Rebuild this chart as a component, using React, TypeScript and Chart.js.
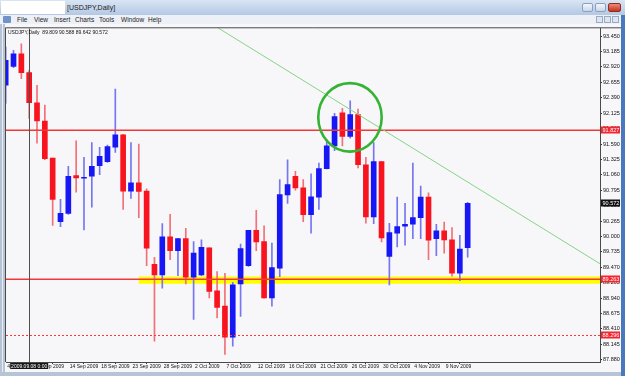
import React, { useEffect, useRef } from 'react';
import { Chart, registerables } from 'chart.js';

Chart.register(...registerables);

// ---------- DATA ----------
const symbolTitle = 'USDJPY,Daily';
const menuItems = ['File', 'View', 'Insert', 'Charts', 'Tools', 'Window', 'Help'];
const menuLefts = [17, 34, 54, 75, 99, 121, 148];

const barDates = [
  '4 Sep', '6 Sep', '7 Sep', '8 Sep', '9 Sep', '10 Sep', '11 Sep', '13 Sep', '14 Sep', '15 Sep',
  '16 Sep', '17 Sep', '18 Sep', '20 Sep', '21 Sep', '22 Sep', '23 Sep', '24 Sep', '25 Sep', '27 Sep',
  '28 Sep', '29 Sep', '30 Sep', '1 Oct', '2 Oct', '4 Oct', '5 Oct', '6 Oct', '7 Oct', '8 Oct',
  '9 Oct', '11 Oct', '12 Oct', '13 Oct', '14 Oct', '15 Oct', '16 Oct', '18 Oct', '19 Oct', '20 Oct',
  '21 Oct', '22 Oct', '23 Oct', '25 Oct', '26 Oct', '27 Oct', '28 Oct', '29 Oct', '30 Oct', '1 Nov',
  '2 Nov', '3 Nov', '4 Nov', '5 Nov', '6 Nov', '8 Nov', '9 Nov', '10 Nov', '11 Nov', '12 Nov',
];
const barYear = '2009';

const openPrices = [
  92.603, 92.928, 93.145, 92.820, 92.301, 91.988, 91.349, 90.255, 90.398, 91.047,
  91.002, 91.036, 91.218, 91.287, 91.537, 91.748, 90.779, 90.922, 90.779, 89.520,
  89.338, 89.993, 89.754, 89.964, 89.298, 89.338, 89.805, 89.064, 88.802, 88.266,
  89.184, 89.497, 90.107, 89.913, 88.944, 89.452, 90.717, 91.036, 90.836, 90.375,
  90.677, 91.167, 91.560, 92.130, 91.720, 92.096, 91.235, 90.335, 91.287, 89.657,
  90.056, 90.175, 90.210, 90.323, 90.677, 89.964, 90.096, 89.942, 89.366, 89.809,
];
const highPrices = [
  93.259, 93.202, 93.316, 92.860, 92.603, 92.261, 91.349, 90.637, 91.207, 91.646,
  91.361, 91.617, 91.532, 91.572, 92.535, 91.760, 91.617, 91.589, 90.819, 89.640,
  90.221, 90.380, 89.964, 90.141, 89.913, 89.942, 89.805, 89.395, 89.366, 89.212,
  89.868, 90.107, 90.449, 90.181, 89.885, 90.979, 91.321, 91.121, 90.979, 91.076,
  91.264, 91.663, 92.119, 92.204, 92.335, 92.193, 91.361, 91.617, 91.292, 90.227,
  90.677, 90.569, 91.264, 90.865, 90.751, 90.210, 90.249, 90.153, 90.021, 90.588,
];
const lowPrices = [
  92.290, 92.905, 92.717, 92.033, 91.606, 91.321, 90.192, 90.170, 90.380, 90.762,
  90.113, 90.506, 91.064, 91.275, 91.446, 90.466, 90.654, 90.323, 89.497, 88.198,
  89.110, 89.600, 89.326, 89.184, 88.574, 89.326, 88.944, 88.597, 87.970, 88.112,
  88.625, 89.486, 89.754, 88.939, 88.802, 89.309, 90.569, 90.796, 90.255, 90.056,
  90.466, 91.161, 91.475, 91.560, 91.691, 91.178, 90.227, 90.221, 89.907, 89.167,
  89.822, 89.851, 89.964, 89.964, 89.600, 89.668, 89.714, 89.315, 89.241, 89.642,
];
const closePrices = [
  93.031, 93.145, 92.820, 92.301, 91.988, 91.338, 90.637, 90.398, 91.036, 91.007,
  91.019, 91.207, 91.378, 91.549, 91.748, 90.779, 90.922, 90.774, 89.799, 89.338,
  89.993, 89.754, 89.964, 89.298, 89.714, 89.811, 89.053, 88.779, 88.266, 89.167,
  89.793, 90.107, 89.908, 88.944, 89.463, 90.722, 90.893, 90.836, 90.375, 90.683,
  91.167, 91.560, 92.062, 91.720, 92.096, 91.235, 90.335, 91.287, 89.976, 90.067,
  90.170, 90.210, 90.323, 90.677, 89.936, 90.096, 89.942, 89.366, 89.782, 90.572,
];

const xTickBars = [0, 4, 8, 12, 16, 20, 24, 28, 32, 36, 40, 44, 48, 52, 56];
const yTickPrices = [
  93.450, 93.185, 92.920, 92.655, 92.390, 92.125, 91.860, 91.590, 91.325, 91.060, 90.795,
  90.530, 90.265, 90.000, 89.735, 89.470, 89.205, 88.940, 88.675, 88.410, 88.145, 87.880,
];

const levelLines = [91.827, 89.263];
const dottedLevel = 88.296;
const supportZone = [89.185, 89.31];
const supportZoneStartBar = 17;
const verticalLineBar = 3;
const verticalLineText = '2009.09.08 0:00';
const trendStart = [27, 93.6];
const trendEnd = [75.9, 89.53];
const circleCenter = [43.97, 92.05];
const circleRadius = [4.05, 0.59];
const lastPrice = 90.572;

const X_MIN = 0.04;
const X_MAX = 75.9;
const Y_MIN = 87.839;
const Y_MAX = 93.583;

// ---------- STYLE ----------
const FONT = '"Liberation Sans Narrow", "Liberation Sans", Arial, sans-serif';
const BULL = '#1717f5';
const BEAR = '#f8141f';
const BULL_WICK = '#7676f2';
const BEAR_WICK = '#f27078';

const overlayPlugin = {
  id: 'mt4Overlay',
  beforeDatasetsDraw(chart: any) {
    const { ctx, chartArea: a, scales } = chart;
    const xs = scales.x;
    const ys = scales.y;
    ctx.save();
    ctx.beginPath();
    ctx.rect(a.left, a.top, a.right - a.left, a.bottom - a.top);
    ctx.clip();
    const zx = xs.getPixelForValue(supportZoneStartBar);
    const zTop = ys.getPixelForValue(supportZone[1]);
    const zBot = ys.getPixelForValue(supportZone[0]);
    ctx.fillStyle = '#ffff00';
    ctx.fillRect(zx, zTop, a.right - zx, zBot - zTop);
    ctx.restore();
  },
  afterDatasetsDraw(chart: any) {
    const { ctx, chartArea: a, scales } = chart;
    const xs = scales.x;
    const ys = scales.y;
    ctx.save();
    ctx.beginPath();
    ctx.rect(a.left, a.top, a.right - a.left, a.bottom - a.top);
    ctx.clip();

    // solid horizontal levels
    ctx.strokeStyle = '#f03838';
    ctx.lineWidth = 1.6;
    levelLines.forEach((p) => {
      const py = ys.getPixelForValue(p);
      ctx.beginPath();
      ctx.moveTo(a.left, py);
      ctx.lineTo(a.right, py);
      ctx.stroke();
    });

    // dotted level
    const dy = Math.round(ys.getPixelForValue(dottedLevel)) + 0.5;
    ctx.setLineDash([2, 2]);
    ctx.strokeStyle = '#ff3a3a';
    ctx.lineWidth = 1;
    ctx.beginPath();
    ctx.moveTo(Math.round(a.left), dy);
    ctx.lineTo(a.right, dy);
    ctx.stroke();
    ctx.setLineDash([]);

    // vertical line
    const vx = Math.round(xs.getPixelForValue(verticalLineBar)) + 0.5;
    ctx.strokeStyle = '#505050';
    ctx.lineWidth = 1;
    ctx.beginPath();
    ctx.moveTo(vx, a.top);
    ctx.lineTo(vx, a.bottom);
    ctx.stroke();

    // trend line
    ctx.strokeStyle = '#84d684';
    ctx.lineWidth = 1;
    ctx.beginPath();
    ctx.moveTo(xs.getPixelForValue(trendStart[0]), ys.getPixelForValue(trendStart[1]));
    ctx.lineTo(xs.getPixelForValue(trendEnd[0]), ys.getPixelForValue(trendEnd[1]));
    ctx.stroke();

    // circle
    const cx = xs.getPixelForValue(circleCenter[0]);
    const cy = ys.getPixelForValue(circleCenter[1]);
    const rx = Math.abs(xs.getPixelForValue(circleCenter[0] + circleRadius[0]) - cx);
    const ry = Math.abs(ys.getPixelForValue(circleCenter[1] + circleRadius[1]) - cy);
    ctx.strokeStyle = '#34b334';
    ctx.lineWidth = 2.6;
    ctx.beginPath();
    ctx.ellipse(cx, cy, rx, ry, 0, 0, Math.PI * 2);
    ctx.stroke();
    ctx.restore();
  },
  afterDraw(chart: any) {
    const { ctx, chartArea: a, scales, width } = chart;
    const xs = scales.x;
    const ys = scales.y;
    ctx.save();
    // frame (left, top)
    ctx.strokeStyle = '#4a4a4a';
    ctx.lineWidth = 1;
    ctx.beginPath();
    ctx.moveTo(a.left - 0.5, a.bottom);
    ctx.lineTo(a.left - 0.5, a.top - 0.5);
    ctx.lineTo(width, a.top - 0.5);
    ctx.stroke();

    // price boxes on the right axis
    const boxes = [
      { p: levelLines[0], bg: '#f2262e', fg: '#ffffff' },
      { p: levelLines[1], bg: '#f2262e', fg: '#ffffff' },
      { p: dottedLevel, bg: '#f2262e', fg: '#ffffff' },
      { p: lastPrice, bg: '#101010', fg: '#ffffff' },
    ];
    ctx.font = `5.5px ${FONT}`;
    ctx.textBaseline = 'middle';
    ctx.textAlign = 'left';
    boxes.forEach((b) => {
      const py = ys.getPixelForValue(b.p);
      ctx.fillStyle = b.bg;
      ctx.fillRect(a.right + 1, Math.round(py) - 3.5, 19, 7);
      ctx.fillStyle = b.fg;
      ctx.fillText(b.p.toFixed(3), a.right + 2.5, py + 0.5);
    });

    // vertical line label
    const vx = xs.getPixelForValue(verticalLineBar);
    ctx.fillStyle = '#161616';
    ctx.fillRect(vx - 19, a.bottom + 1, 38, 6);
    ctx.fillStyle = '#ffffff';
    ctx.font = `5px ${FONT}`;
    ctx.textAlign = 'center';
    ctx.fillText(verticalLineText, vx, a.bottom + 4.2);

    // header text
    const n = closePrices.length - 1;
    const header = `${symbolTitle}  ${openPrices[n].toFixed(3)} ${highPrices[n].toFixed(3)} ${lowPrices[n].toFixed(3)} ${closePrices[n].toFixed(3)}`;
    ctx.fillStyle = '#111111';
    ctx.textAlign = 'left';
    ctx.font = `5px ${FONT}`;
    ctx.fillText(header, a.left + 2, a.top + 4);
    ctx.restore();
  },
};

function CandleChart() {
  const ref = useRef<HTMLCanvasElement | null>(null);
  useEffect(() => {
    if (!ref.current) return;
    const bodies = openPrices.map((o, i) => ({ x: i, y: [o, closePrices[i]] }));
    const wicks = lowPrices.map((l, i) => ({ x: i, y: [l, highPrices[i]] }));
    const up = openPrices.map((o, i) => closePrices[i] >= o);
    const chart = new Chart(ref.current, {
      type: 'bar',
      data: {
        datasets: [
          {
            label: 'body',
            data: bodies as any,
            backgroundColor: up.map((u) => (u ? BULL : BEAR)),
            barThickness: 5,
            minBarLength: 1,
            grouped: false,
            borderWidth: 0,
          } as any,
          {
            label: 'wick',
            data: wicks as any,
            backgroundColor: up.map((u) => (u ? BULL_WICK : BEAR_WICK)),
            barThickness: 1,
            grouped: false,
            borderWidth: 0,
          } as any,
        ],
      },
      options: {
        animation: false,
        responsive: false,
        devicePixelRatio: 1,
        layout: { padding: { left: 1, top: 2, right: 0, bottom: 0 } },
        plugins: { legend: { display: false }, tooltip: { enabled: false } },
        scales: {
          x: {
            type: 'linear',
            min: X_MIN,
            max: X_MAX,
            offset: false,
            grid: { display: true, drawOnChartArea: false, drawTicks: true, tickLength: 2, color: '#333333' },
            border: { display: true, color: '#4a4a4a' },
            ticks: {
              autoSkip: false,
              maxRotation: 0,
              minRotation: 0,
              align: 'start',
              labelOffset: 1.5,
              padding: 0,
              color: '#111111',
              font: { size: 5, family: FONT },
              callback: (v: any) => `${barDates[Math.round(Number(v))]} ${barYear}`,
            },
            afterBuildTicks: (s: any) => {
              s.ticks = xTickBars.map((v) => ({ value: v }));
            },
            afterFit: (s: any) => {
              s.height = 10;
            },
          },
          y: {
            type: 'linear',
            position: 'right',
            min: Y_MIN,
            max: Y_MAX,
            grid: { display: true, drawOnChartArea: false, drawTicks: true, tickLength: 2, color: '#333333' },
            border: { display: true, color: '#4a4a4a' },
            ticks: {
              autoSkip: false,
              padding: 1,
              color: '#111111',
              font: { size: 5.5, family: FONT },
              callback: (v: any) => Number(v).toFixed(3),
            },
            afterBuildTicks: (s: any) => {
              s.ticks = yTickPrices.map((v) => ({ value: v }));
            },
            afterFit: (s: any) => {
              s.width = 21;
            },
          },
        },
      } as any,
      plugins: [overlayPlugin],
    });
    return () => chart.destroy();
  }, []);
  return <canvas ref={ref} width={616} height={348} style={{ display: 'block', width: 616, height: 348 }} />;
}

export default function App() {
  const uiFont = '"Liberation Sans", Arial, sans-serif';
  return (
    <div
      style={{
        position: 'fixed',
        left: 0,
        top: 0,
        width: 625,
        height: 376,
        overflow: 'hidden',
        background: '#b7c4d6',
        fontFamily: uiFont,
      }}
    >
      {/* title bar */}
      <div style={{ position: 'absolute', left: 0, top: 0, width: 625, height: 15, background: 'linear-gradient(#d9e5f4, #b3c8e4)' }} />
      <div style={{ position: 'absolute', left: 1, top: 1, width: 64, height: 13, background: '#ffffff' }} />
      <div style={{ position: 'absolute', left: 67, top: 3, fontSize: 7, lineHeight: '9px', color: '#1b1b1b' }}>[{symbolTitle}]</div>
      <div style={{ position: 'absolute', left: 582, top: 3, width: 11, height: 9, borderRadius: 2, background: 'linear-gradient(#f4f7fb,#c9d6e8)', border: '1px solid #8aa0c0', boxSizing: 'border-box' }} />
      <div style={{ position: 'absolute', left: 595, top: 3, width: 11, height: 9, borderRadius: 2, background: 'linear-gradient(#f4f7fb,#c9d6e8)', border: '1px solid #8aa0c0', boxSizing: 'border-box' }} />
      <div style={{ position: 'absolute', left: 608, top: 3, width: 13, height: 9, borderRadius: 2, background: 'linear-gradient(#f08a7a,#c8321e)', border: '1px solid #8a3020', boxSizing: 'border-box' }} />
      {/* menu bar */}
      <div style={{ position: 'absolute', left: 0, top: 15, width: 625, height: 9, background: '#edf1f7' }} />
      <div style={{ position: 'absolute', left: 3, top: 16, width: 8, height: 7, background: '#6f93c6', borderRadius: 1 }} />
      {menuItems.map((m, i) => (
        <div key={m} style={{ position: 'absolute', left: menuLefts[i], top: 15, fontSize: 6.5, lineHeight: '9px', color: '#1b1b1b' }}>
          {m}
        </div>
      ))}
      <div style={{ position: 'absolute', left: 596, top: 16, width: 7, height: 7, background: '#dde5f0', border: '1px solid #9aaac0', boxSizing: 'border-box' }} />
      <div style={{ position: 'absolute', left: 604, top: 16, width: 7, height: 7, background: '#dde5f0', border: '1px solid #9aaac0', boxSizing: 'border-box' }} />
      <div style={{ position: 'absolute', left: 612, top: 16, width: 7, height: 7, background: '#dde5f0', border: '1px solid #9aaac0', boxSizing: 'border-box' }} />
      {/* chart window */}
      <div style={{ position: 'absolute', left: 5, top: 24, width: 616, height: 348, background: '#f7f6f9' }}>
        <CandleChart />
      </div>
      <div style={{ position: 'absolute', left: 621, top: 15, width: 4, height: 361, background: '#4a78bd' }} />
      <div style={{ position: 'absolute', left: 2, top: 24, width: 1, height: 348, background: '#e8eef6' }} />
    </div>
  );
}
